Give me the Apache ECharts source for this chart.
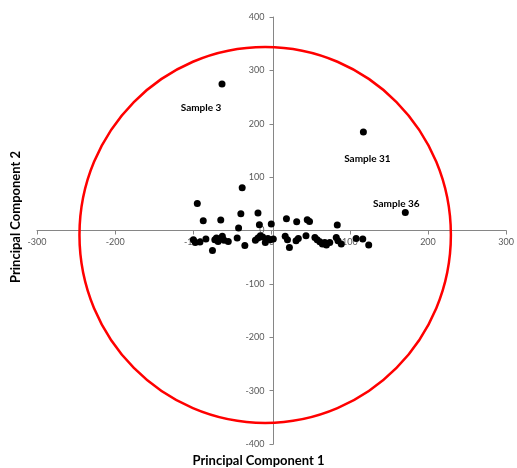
<!DOCTYPE html>
<html>
<head>
<meta charset="utf-8">
<script src="https://cdn.jsdelivr.net/npm/echarts@6/dist/echarts.min.js"></script>
<style>
  html, body { margin: 0; padding: 0; background: #fff; }
  #chart { width: 517px; height: 468px; }
</style>
</head>
<body>
<div id="chart"></div>
<script>
// principal component scores (unlabelled samples)
const pc1 = [
  -95.0, -87.4, -65.0, -39.3, -17.4, -42.2, -15.6, -0.4, 19.0, 32.1, 45.6, 48.5, 84.0, -37.6,
  -100.0, -97.6, -91.6, -84.0, -75.6, -72.6, -70.5, -68.4, -66.3, -63.0, -60.8, -55.4, -44.0,
  -34.2, -20.7, -17.4, -14.3, -11.4, -8.0, -4.7, -1.6, 2.2,
  17.4, 20.3, 22.8, 31.3, 34.2, 44.0, 55.4, 58.3, 61.7, 65.0, 68.0, 70.1, 74.4, 82.7, 84.9,
  89.1, 108.1, 116.6, 124.2
]
const pc2 = [
  50.8, 18.4, 19.7, 31.5, 32.8, 4.7, 10.9, 12.2, 22.1, 16.5, 20.2, 17.0, 10.3, 80.2,
  -17.2, -22.3, -21.5, -16.0, -37.3, -17.2, -14.0, -20.4, -16.0, -11.0, -18.5, -20.4, -14.0,
  -27.9, -18.5, -14.0, -9.7, -12.2, -22.3, -14.8, -17.2, -16.0,
  -11.0, -17.2, -31.7, -19.1, -14.8, -9.7, -12.9, -17.2, -21.0, -25.3, -22.3, -27.2, -22.3, -12.9, -19.1,
  -25.3, -14.8, -16.0, -27.2
]

// labelled outliers
const sampleNames = ['Sample 3', 'Sample 31', 'Sample 36']
const sampleX = [-63.4, 117.4, 171.0]
const sampleY = [274.4, 184.5, 33.9]

// confidence ellipse: centre and half-axes in data units
const ellipseCentre = [-8.2, -8.4]
const ellipseRadius = [237.5, 352.2]

// axis ranges and steps
const xRange = [-300, 300, 100]
const yRange = [-400, 400, 100]

// where each outlier label sits relative to its point (px)
const labelOffset = {
  'Sample 3': [-21, 24],
  'Sample 31': [4, 27],
  'Sample 36': [-9, -9]
}

const gridBox = { left: 37, right: 7, top: 17, bottom: 24 }
const plotW = 517 - gridBox.left - gridBox.right
const plotH = 468 - gridBox.top - gridBox.bottom

const chart = echarts.init(document.getElementById('chart'))

const axisCommon = {
  type: 'value',
  axisLine: { onZero: false, lineStyle: { color: '#868686', width: 1 } },
  axisTick: { show: true, length: 4, lineStyle: { color: '#868686' } },
  axisLabel: { color: '#595959', fontSize: 9, fontFamily: 'Lato' },
  splitLine: { show: false }
}

chart.setOption({
  animation: false,
  grid: { ...gridBox, containLabel: false },
  xAxis: {
    ...axisCommon,
    min: xRange[0], max: xRange[1], interval: xRange[2],
    // axes cross at the origin
    offset: -plotH * (0 - yRange[0]) / (yRange[1] - yRange[0]),
    axisLabel: { ...axisCommon.axisLabel, margin: 7, showMinLabel: true, showMaxLabel: true }
  },
  yAxis: {
    ...axisCommon,
    min: yRange[0], max: yRange[1], interval: yRange[2],
    offset: -plotW * (0 - xRange[0]) / (xRange[1] - xRange[0]),
    axisLabel: { ...axisCommon.axisLabel, margin: 9 }
  },
  graphic: [
    {
      type: 'text', left: 'center', top: 454,
      style: { text: 'Principal Component 1', fontSize: 13, fontWeight: 'bold', fontFamily: 'Lato', fill: '#000' }
    },
    {
      type: 'text', x: 16, y: 217, rotation: Math.PI / 2,
      style: { text: 'Principal Component 2', fontSize: 13, fontWeight: 'bold', fontFamily: 'Lato', fill: '#000',
               align: 'center', verticalAlign: 'middle' }
    }
  ],
  series: [
    {
      type: 'custom',
      silent: true,
      z: 1,
      data: [[ellipseCentre[0], ellipseCentre[1], ellipseRadius[0], ellipseRadius[1]]],
      renderItem: (params, api) => {
        const c = api.coord([api.value(0), api.value(1)])
        const r = api.size([api.value(2), api.value(3)])
        return {
          type: 'ellipse',
          shape: { cx: c[0], cy: c[1], rx: r[0], ry: r[1] },
          style: { fill: 'none', stroke: '#ff0000', lineWidth: 2.5 }
        }
      }
    },
    {
      type: 'scatter',
      z: 3,
      symbolSize: 7,
      itemStyle: { color: '#000', opacity: 1 },
      data: pc1.map((x, i) => [x, pc2[i]])
    },
    {
      type: 'scatter',
      z: 3,
      symbolSize: 7,
      itemStyle: { color: '#000', opacity: 1 },
      data: sampleNames.map((name, i) => ({
        name,
        value: [sampleX[i], sampleY[i]],
        label: {
          show: true,
          position: 'inside',
          offset: labelOffset[name],
          formatter: '{b}',
          color: '#000',
          fontSize: 10,
          fontWeight: 'bold',
          fontFamily: 'Lato'
        }
      }))
    }
  ]
})
</script>
</body>
</html>
